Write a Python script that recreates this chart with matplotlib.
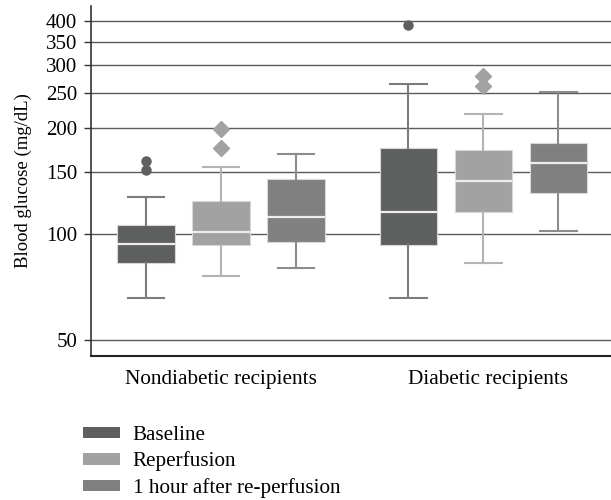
import matplotlib
matplotlib.use("Agg")
import matplotlib.pyplot as plt
from matplotlib.patches import Patch
from matplotlib.ticker import FixedLocator, FixedFormatter, NullLocator

groups = ["Nondiabetic recipients", "Diabetic recipients"]
series = ["Baseline", "Reperfusion", "1 hour after re-perfusion"]
colors = ["#5e605f", "#a2a2a2", "#808080"]
whisker_colors = ["#7c7c7c", "#b4b4b4", "#8c8c8c"]
flier_markers = ["o", "D", "o"]

# per group, per series: whislo, q1, med, q3, whishi
whislo = [[65.9, 75.9, 80.0], [65.9, 82.8, 102.0]]
q1 = [[82.6, 92.8, 94.6], [92.8, 115.0, 130.4]]
med = [[93.7, 101.0, 111.8], [115.2, 140.8, 159.0]]
q3 = [[105.9, 124.1, 143.2], [175.3, 173.0, 180.4]]
whishi = [[126.8, 154.9, 168.5], [266.0, 219.0, 252.6]]
fliers = [[[151.2, 160.4], [174.6, 198.0], []], [[390.0], [263.0, 279.6], []]]

yticks = [50, 100, 150, 200, 250, 300, 350, 400]

plt.rcParams["font.family"] = ["Liberation Serif", "DejaVu Serif"]

fig = plt.figure(figsize=(6.11, 5.0), dpi=100)
ax = fig.add_axes([91 / 611, 1 - 356 / 500, 1 - 91 / 611, 350 / 500])

group_starts = [0.0, 3.5]
for g in range(len(groups)):
    for s in range(len(series)):
        pos = group_starts[g] + s
        stats = [dict(whislo=whislo[g][s], q1=q1[g][s], med=med[g][s], q3=q3[g][s],
                      whishi=whishi[g][s], fliers=fliers[g][s])]
        ax.bxp(stats, positions=[pos], widths=0.77, patch_artist=True, showfliers=True,
               boxprops=dict(facecolor=colors[s], edgecolor="#d8d8d8", linewidth=0.8),
               medianprops=dict(color="#eeeeee", linewidth=1.6),
               whiskerprops=dict(color=whisker_colors[s], linewidth=1.5),
               capprops=dict(color=whisker_colors[s], linewidth=1.5),
               capwidths=0.49,
               flierprops=dict(marker=flier_markers[s], markerfacecolor=colors[s],
                               markeredgecolor=colors[s], markersize=6.5 if s == 0 else 8),
               zorder=3)

ax.set_yscale("log")
ax.set_ylim(45.05, 442)
ax.set_xlim(-0.733, 6.2)
ax.yaxis.set_major_locator(FixedLocator(yticks))
ax.yaxis.set_major_formatter(FixedFormatter([str(t) for t in yticks]))
ax.yaxis.set_minor_locator(NullLocator())
ax.grid(axis="y", color="#5a5a5a", linewidth=1.0, zorder=0)
ax.set_axisbelow(True)

ax.set_xticks([1.0, 4.56])
ax.set_xticklabels(groups, fontsize=15.3)
ax.tick_params(axis="x", length=0, pad=10)
ax.tick_params(axis="y", length=5, width=1.0, color="#333333", labelsize=15, pad=5)
ax.set_ylabel("Blood glucose (mg/dL)", fontsize=13.5, labelpad=10)

for side in ["top", "right"]:
    ax.spines[side].set_visible(False)
ax.spines["left"].set_color("#333333")
ax.spines["left"].set_linewidth(1.2)
ax.spines["bottom"].set_color("#222222")
ax.spines["bottom"].set_linewidth(1.5)

handles = [Patch(facecolor=c, edgecolor="none") for c in colors]
fig.legend(handles, series, loc="upper left", bbox_to_anchor=(83 / 611, 1 - 426 / 500),
           frameon=False, fontsize=15.2, handlelength=1.75, handleheight=0.45,
           handletextpad=0.6, labelspacing=0.31, borderaxespad=0, borderpad=0)

fig.savefig("out.png", dpi=100)
